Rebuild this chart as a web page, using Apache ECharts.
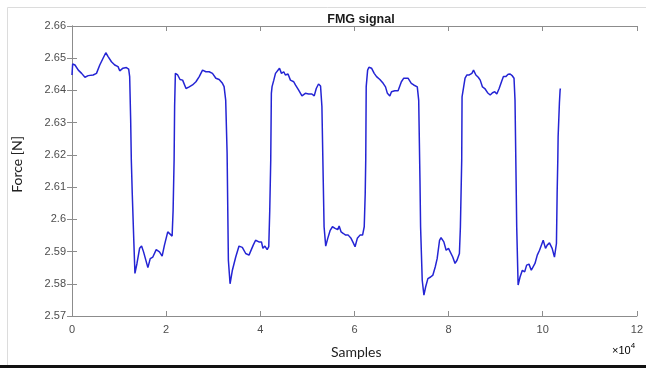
<!DOCTYPE html>
<html>
<head>
<meta charset="utf-8">
<script src="https://cdn.jsdelivr.net/npm/echarts@6/dist/echarts.min.js"></script>
<style>
  html, body { margin: 0; padding: 0; background: #fff; }
  #fmg { width: 646px; height: 368px; }
</style>
</head>
<body>
<div id="fmg"></div>
<script>
// samples (x) and force [N] (y)
const sampleX = [
  0, 140, 630, 1340, 2040, 2750, 3450, 4500, 5200, 5900, 6600, 7180, 7670, 8380, 9080, 9780,
  10140, 10830, 11550, 12040, 12250, 12460, 12600, 12800, 13150, 13370, 13800, 14360, 14780,
  15200, 15550, 16120, 16620, 17170, 17890, 18580, 19150, 19640, 20340, 20840, 21270, 21480,
  21690, 21800, 21960, 22100, 22450, 22950, 23500, 24220, 24900, 25600, 26330, 27030, 27730,
  28440, 29140, 29840, 30560, 31260, 31960, 32310, 32650, 32950, 33220, 33580, 34070, 34780,
  35480, 36180, 36900, 37600, 38000, 38500, 39000, 39700, 40250, 40550, 40980, 41460, 41800,
  42010, 42220, 42350, 42500, 42870, 43230, 43570, 44080, 44500, 44980, 45330, 45890, 46400,
  47100, 47460, 48150, 48850, 49570, 50260, 50960, 51460, 51890, 52370, 52800, 53090, 53370,
  53550, 53900, 54330, 54850, 55330, 55900, 56450, 56750, 57170, 57660, 58140, 58680, 59280,
  59760, 60130, 60610, 61180, 61730, 62080, 62290, 62400, 62500, 62800, 63080, 63630, 64200,
  64700, 65400, 66100, 66600, 67000, 67520, 67870, 68570, 69270, 69620, 69970, 70480, 70900,
  71380, 72080, 72590, 73000, 73350, 73650, 73920, 74050, 74400, 74760, 75120, 75600, 76180,
  76670, 77160, 77570, 78080, 78400, 78990, 79480, 79980, 80400, 80880, 81370, 81790, 82300,
  82510, 82790, 82860, 83210, 83500, 83900, 84400, 84950, 85300, 85800, 86300, 86720, 87200,
  87690, 88280, 88840, 89330, 89810, 90240, 90740, 91240, 91650, 92150, 92650, 93080, 93560,
  93900, 94110, 94340, 94470, 94770, 95180, 95670, 96160, 96580, 97080, 97570, 97990, 98350,
  98840, 99320, 99680, 100100, 100590, 100950, 101430, 102000, 102490, 102700, 102910, 103060,
  103200, 103270, 103540, 103690, 103760
];
const forceY = [
  2.6448, 2.6482, 2.6479, 2.6463, 2.6453, 2.6441, 2.6446, 2.6448, 2.6453, 2.6479, 2.6500, 2.6517,
  2.6505, 2.6489, 2.6479, 2.6474, 2.6461, 2.6469, 2.6471, 2.6466, 2.6443, 2.6310, 2.6184, 2.6080,
  2.5925, 2.5832, 2.5863, 2.5910, 2.5917, 2.5899, 2.5894, 2.5850, 2.5878, 2.5883, 2.5906, 2.5899,
  2.5886, 2.5920, 2.5961, 2.5954, 2.5948, 2.6028, 2.6184, 2.6350, 2.6453, 2.6451, 2.6448, 2.6434,
  2.6432, 2.6406, 2.6411, 2.6417, 2.6427, 2.6443, 2.6463, 2.6458, 2.6458, 2.6453, 2.6438, 2.6434,
  2.6422, 2.6412, 2.6370, 2.6205, 2.5873, 2.5800, 2.5842, 2.5883, 2.5917, 2.5913, 2.5894, 2.5889,
  2.5895, 2.5920, 2.5935, 2.5930, 2.5930, 2.5910, 2.5917, 2.5906, 2.5915, 2.6028, 2.6184, 2.6391,
  2.6412, 2.6432, 2.6453, 2.6448, 2.6469, 2.6453, 2.6458, 2.6448, 2.6451, 2.6432, 2.6427, 2.6417,
  2.6401, 2.6383, 2.6391, 2.6389, 2.6389, 2.6383, 2.6406, 2.6420, 2.6414, 2.6350, 2.6122, 2.5977,
  2.5917, 2.5941, 2.5966, 2.5977, 2.5972, 2.5968, 2.5979, 2.5961, 2.5956, 2.5951, 2.5951, 2.5941,
  2.5927, 2.5915, 2.5941, 2.5951, 2.5951, 2.5977, 2.6080, 2.6184, 2.6412, 2.6463, 2.6472, 2.6469,
  2.6453, 2.6443, 2.6434, 2.6422, 2.6411, 2.6391, 2.6383, 2.6396, 2.6399, 2.6399, 2.6396, 2.6427,
  2.6438, 2.6432, 2.6438, 2.6422, 2.6417, 2.6411, 2.6411, 2.6370, 2.6122, 2.5977, 2.5811, 2.5765,
  2.5790, 2.5816, 2.5821, 2.5827, 2.5852, 2.5878, 2.5935, 2.5943, 2.5930, 2.5904, 2.5910, 2.5904,
  2.5883, 2.5863, 2.5873, 2.5894, 2.5977, 2.6184, 2.6380, 2.6412, 2.6438, 2.6448, 2.6448, 2.6453,
  2.6463, 2.6448, 2.6441, 2.6432, 2.6411, 2.6406, 2.6393, 2.6386, 2.6393, 2.6396, 2.6389, 2.6406,
  2.6427, 2.6443, 2.6443, 2.6450, 2.6451, 2.6445, 2.6438, 2.6370, 2.6122, 2.5977, 2.5796, 2.5821,
  2.5842, 2.5837, 2.5858, 2.5861, 2.5842, 2.5837, 2.5863, 2.5889, 2.5904, 2.5910, 2.5935, 2.5910,
  2.5920, 2.5927, 2.5910, 2.5883, 2.5878, 2.5925, 2.6080, 2.6184, 2.6256, 2.6360, 2.6401, 2.6406
];

const xMin = 0, xMax = 120000, xStep = 20000;
const yMin = 2.57, yMax = 2.66, yStep = 0.01;

const boxColor = "#8c8c8c";
const labelColor = "#4d4d4d";

const myChart = echarts.init(document.getElementById("fmg"));

const tickSide = {
  axisLine: { show: true, lineStyle: { color: boxColor, width: 1 } },
  axisTick: { show: true, inside: true, length: 5, lineStyle: { color: boxColor } },
  splitLine: { show: false },
};

const option = {
  animation: false,
  backgroundColor: "#fff",
  grid: { left: 72, right: 7, top: 26, bottom: 52, containLabel: false },
  title: {
    text: "FMG signal",
    left: 356,
    top: 8,
    textAlign: "center",
    textStyle: { fontFamily: "Liberation Sans", fontSize: 12.5, fontWeight: "bold", color: "#1a1a1a" },
  },
  xAxis: [
    {
      type: "value", min: xMin, max: xMax, interval: xStep,
      ...tickSide,
      axisLabel: {
        margin: 8, color: labelColor, fontSize: 11, fontFamily: "Liberation Sans",
        formatter: (v) => String(v / 10000),
      },
    },
    {
      type: "value", position: "top", min: xMin, max: xMax, interval: xStep,
      ...tickSide,
      axisLabel: { show: false },
    },
  ],
  yAxis: [
    {
      type: "value", min: yMin, max: yMax, interval: yStep,
      ...tickSide,
      axisLabel: {
        margin: 6, color: labelColor, fontSize: 11, fontFamily: "Liberation Sans",
        formatter: (v) => String(parseFloat(v.toFixed(2))),
      },
    },
    {
      type: "value", position: "right", min: yMin, max: yMax, interval: yStep,
      ...tickSide,
      axisLabel: { show: false },
    },
  ],
  series: [
    {
      name: "FMG",
      type: "line",
      data: sampleX.map((x, i) => [x, forceY[i]]),
      showSymbol: false,
      symbol: "none",
      lineStyle: { color: "#2424d4", width: 1.5 },
    },
  ],
  graphic: [
    // light frame of the screenshot
    { type: "rect", shape: { x: 7.5, y: 7.5, width: 645, height: 360 }, style: { fill: null, stroke: "#dcdcdc", lineWidth: 1 }, silent: true },
    { type: "rect", shape: { x: 0, y: 365, width: 646, height: 3 }, style: { fill: "#111" }, silent: true },
    {
      type: "text", left: 331, top: 345,
      style: { text: "Samples", font: "14px Lato", fill: "#222" },
    },
    {
      type: "text", left: 10, top: 136, rotation: Math.PI / 2,
      style: { text: "Force [N]", font: "14px Lato", fill: "#222", textAlign: "center", textVerticalAlign: "top" },
    },
    {
      type: "text", left: 612, top: 342,
      style: {
        text: "{a|\u00d710}{b|4}",
        rich: {
          a: { fontSize: 11, fontFamily: "Liberation Sans", color: labelColor, verticalAlign: "bottom" },
          b: { fontSize: 8, fontFamily: "Liberation Sans", color: labelColor, verticalAlign: "top", padding: [0, 0, 6, 0] },
        },
      },
    },
  ],
};

myChart.setOption(option);
</script>
</body>
</html>
